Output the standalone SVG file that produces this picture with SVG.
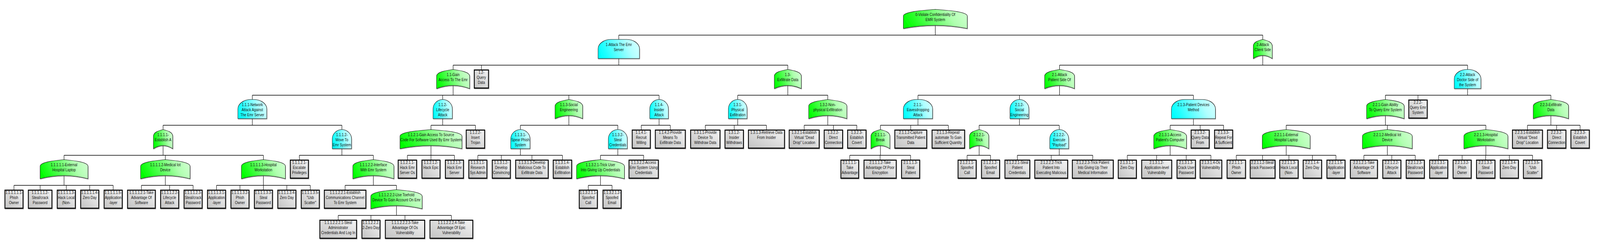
<svg xmlns="http://www.w3.org/2000/svg" width="4984" height="633" viewBox="0 0 4984 633" preserveAspectRatio="none">
<defs>
<linearGradient id="gG" x1="0" y1="0.6" x2="1" y2="0.4"><stop offset="0" stop-color="#00ff00"/><stop offset="0.15" stop-color="#1eff1e"/><stop offset="0.75" stop-color="#b0ffb0"/><stop offset="1" stop-color="#ccffcc"/></linearGradient>
<linearGradient id="gC" x1="0" y1="0.6" x2="1" y2="0.4"><stop offset="0" stop-color="#00ffff"/><stop offset="0.15" stop-color="#1effff"/><stop offset="0.75" stop-color="#b0ffff"/><stop offset="1" stop-color="#d0ffff"/></linearGradient>
<linearGradient id="gL" x1="0" y1="1" x2="1" y2="0"><stop offset="0" stop-color="#c2c2c2"/><stop offset="1" stop-color="#f4f4f4"/></linearGradient>
<filter id="sh" x="-10%" y="-10%" width="125%" height="130%"><feDropShadow dx="1" dy="1.5" stdDeviation="0.6" flood-color="#555" flood-opacity="0.6"/></filter>
</defs>
<style>
svg{width:100vw;height:100vh}
.c{fill:none;stroke:#000;stroke-width:1.3}
.lf{fill:url(#gL);stroke:#000;stroke-width:2.6;filter:url(#sh)}
.or{fill:url(#gG);stroke:#1a1a1a;stroke-width:1.2;filter:url(#sh)}
.and{fill:url(#gC);stroke:#1a1a1a;stroke-width:1.2;filter:url(#sh)}
text{font-family:"Liberation Sans",Arial,sans-serif;font-size:10.5px;fill:#111;text-anchor:middle}
</style>
<rect width="4984" height="633" fill="#fff"/>
<g id="connectors" class="c">
<path d="M2913.5,65V90M1927.5,90H3933.5M1927.5,90V101M3933.5,90V101"/>
<path d="M1927.5,150V167M1411.5,167H2454M1411.5,167V178M1499.5,167V178M2454,167V178"/>
<path d="M3933.5,142V167M3300.5,167H4571.5M3300.5,167V178M4571.5,167V178"/>
<path d="M1411.5,219V244M786,244H2053M786,244V255M1379,244V255M1772,244V255M2053,244V255"/>
<path d="M2454,219V244M2298,244H2578.5M2298,244V255M2578.5,244V255"/>
<path d="M3300.5,219V244M2859.5,244H3717.5M2859.5,244V255M3175.5,244V255M3717.5,244V255"/>
<path d="M4571.5,227V244M4315.5,244H4831M4315.5,244V255M4417,244V255M4831,244V255"/>
<path d="M786,304V321M508,321H1065M508,321V332M1065,321V332"/>
<path d="M1379,304V321M1342.5,321H1481M1342.5,321V332M1481,321V332"/>
<path d="M1772,296V321M1621,321H1924.5M1621,321V332M1924.5,321V332"/>
<path d="M2053,304V321M1997.5,321H2088M1997.5,321V332M2088,321V332"/>
<path d="M2298,304V321M2197,321H2387.5M2197,321V332M2287,321V332M2387.5,321V332"/>
<path d="M2578.5,296V321M2505,321H2669M2505,321V332M2596,321V332M2669,321V332"/>
<path d="M2859.5,304V321M2742.5,321H2954M2742.5,321V332M2837,321V332M2954,321V332"/>
<path d="M3175.5,304V321M3050,321H3299.5M3050,321V332M3299.5,321V332"/>
<path d="M3717.5,304V321M3645,321H3811.5M3645,321V332M3738.5,321V332M3811.5,321V332"/>
<path d="M4315.5,296V321M4006.5,321H4628.5M4006.5,321V332M4321.5,321V332M4628.5,321V332"/>
<path d="M4831,296V321M4758,321H4922M4758,321V332M4849,321V332M4922,321V332"/>
<path d="M508,373V398M199.5,398H820.5M199.5,398V409M515,398V409M820.5,398V409"/>
<path d="M1065,381V398M932.5,398H1163M932.5,398V409M1163,398V409"/>
<path d="M1342.5,373V398M1269,398H1415.5M1269,398V409M1342.5,398V409M1415.5,398V409"/>
<path d="M1621,381V398M1488.5,398H1752M1488.5,398V409M1561.5,398V409M1657,398V409M1752,398V409"/>
<path d="M1924.5,381V398M1870.5,398H2005M1870.5,398V409M2005,398V409"/>
<path d="M2742.5,373V398M2647,398H2836.5M2647,398V409M2741.5,398V409M2836.5,398V409"/>
<path d="M3050,373V398M3012.5,398H3085.5M3012.5,398V409M3085.5,398V409"/>
<path d="M3299.5,381V398M3169,398H3404M3169,398V409M3274.5,398V409M3404,398V409"/>
<path d="M3645,373V398M3511.5,398H3772M3511.5,398V409M3603,398V409M3695,398V409M3772,398V409"/>
<path d="M4006.5,373V398M3851,398H4161.5M3851,398V409M3933,398V409M4015,398V409M4088,398V409M4161.5,398V409"/>
<path d="M4321.5,373V398M4248.5,398H4408.5M4248.5,398V409M4335.5,398V409M4408.5,398V409"/>
<path d="M4628.5,373V398M4481.5,398H4774M4481.5,398V409M4554.5,398V409M4628,398V409M4701.5,398V409M4774,398V409"/>
<path d="M199.5,450V475M43.5,475H352.5M43.5,475V486M125,475V486M206.5,475V486M279.5,475V486M352.5,475V486"/>
<path d="M515,450V475M440.5,475H601.5M440.5,475V486M528.5,475V486M601.5,475V486"/>
<path d="M820.5,450V475M674.5,475H966.5M674.5,475V486M747.5,475V486M820.5,475V486M893.5,475V486M966.5,475V486"/>
<path d="M1163,450V475M1075,475H1235M1075,475V486M1235,475V486"/>
<path d="M1870.5,450V475M1832.5,475H1906.5M1832.5,475V486M1906.5,475V486"/>
<path d="M1235,527V552M1053.5,552H1406M1053.5,552V563M1155.5,552V563M1261.5,552V563M1406,552V563"/>
</g>

<g id="n0" transform="translate(2814,24)"><path class="or" d="M0,49Q99.5,33 199,49L199,17C199,7 149.3,3 99.5,0C49.8,3 0,7 0,17Z"/><text><tspan x="99.5" y="17">0-Violate Confidentiality Of</tspan><tspan x="99.5" y="30">EMR System</tspan></text></g>

<g id="n1" transform="translate(1863,101)"><path class="and" d="M0,49V24C0,11 18,0 40,0H89C111,0 129,11 129,24V49Z"/><text><tspan x="64.5" y="17">1-Attack The Emr</tspan><tspan x="64.5" y="30">Server</tspan></text></g>
<g id="n2" transform="translate(3904,101)"><path class="or" d="M0,49Q29.5,33 59,49L59,17C59,7 44.3,3 29.5,0C14.8,3 0,7 0,17Z"/><text><tspan x="29.5" y="17">2-Attack</tspan><tspan x="29.5" y="30">Client Side</tspan></text></g>

<g id="n1-1" transform="translate(1360,178)"><path class="or" d="M0,49Q51.5,33 103,49L103,17C103,7 77.3,3 51.5,0C25.8,3 0,7 0,17Z"/><text><tspan x="51.5" y="17">1.1-Gain</tspan><tspan x="51.5" y="30">Access To The Emr</tspan></text></g>
<g id="n1-2" transform="translate(1476,178)"><rect class="lf" x="1.3" y="1.3" width="44.4" height="46.4"/><text><tspan x="23.5" y="11.5">1.2-</tspan><tspan x="23.5" y="24.5">Query</tspan><tspan x="23.5" y="37.5">Data</tspan></text></g>
<g id="n1-3" transform="translate(2412,178)"><path class="or" d="M0,49Q42,33 84,49L84,17C84,7 63,3 42,0C21,3 0,7 0,17Z"/><text><tspan x="42" y="17">1.3-</tspan><tspan x="42" y="30">Exfiltrate Data</tspan></text></g>
<g id="n2-1" transform="translate(3254,178)"><path class="or" d="M0,49Q46.5,33 93,49L93,17C93,7 69.8,3 46.5,0C23.3,3 0,7 0,17Z"/><text><tspan x="46.5" y="17">2.1-Attack</tspan><tspan x="46.5" y="30">Patient Side Of</tspan></text></g>
<g id="n2-2" transform="translate(4530,178)"><path class="and" d="M0,49V24C0,11 18,0 40,0H43C65,0 83,11 83,24V49Z"/><text><tspan x="41.5" y="17">2.2-Attack</tspan><tspan x="41.5" y="30">Doctor Side of</tspan><tspan x="41.5" y="43">the System</tspan></text></g>

<g id="n1-1-1" transform="translate(741,255)"><path class="and" d="M0,49V24C0,11 18,0 40,0H50C72,0 90,11 90,24V49Z"/><text><tspan x="45" y="17">1.1.1-Network</tspan><tspan x="45" y="30">Attack Against</tspan><tspan x="45" y="43">The Emr Server</tspan></text></g>
<g id="n1-1-2" transform="translate(1349,255)"><path class="and" d="M0,49V24C0,11 13.5,0 30,0C46.5,0 60,11 60,24V49Z"/><text><tspan x="30" y="17">1.1.2-</tspan><tspan x="30" y="30">Lifecycle</tspan><tspan x="30" y="43">Attack</tspan></text></g>
<g id="n1-1-3" transform="translate(1729,255)"><path class="or" d="M0,49Q43,33 86,49L86,17C86,7 64.5,3 43,0C21.5,3 0,7 0,17Z"/><text><tspan x="43" y="17">1.1.3-Social</tspan><tspan x="43" y="30">Engineering</tspan></text></g>
<g id="n1-1-4" transform="translate(2024,255)"><path class="and" d="M0,49V24C0,11 13,0 29,0C45,0 58,11 58,24V49Z"/><text><tspan x="29" y="17">1.1.4-</tspan><tspan x="29" y="30">Insider</tspan><tspan x="29" y="43">Attack</tspan></text></g>
<g id="n1-3-1" transform="translate(2269,255)"><path class="and" d="M0,49V24C0,11 13,0 29,0C45,0 58,11 58,24V49Z"/><text><tspan x="29" y="17">1.3.1-</tspan><tspan x="29" y="30">Physical</tspan><tspan x="29" y="43">Exfiltration</tspan></text></g>
<g id="n1-3-2" transform="translate(2519,255)"><path class="or" d="M0,49Q59.5,33 119,49L119,17C119,7 89.3,3 59.5,0C29.8,3 0,7 0,17Z"/><text><tspan x="59.5" y="17">1.3.2-Non-</tspan><tspan x="59.5" y="30">physical Exfiltration</tspan></text></g>
<g id="n2-1-1" transform="translate(2814,255)"><path class="and" d="M0,49V24C0,11 18,0 40,0H51C73,0 91,11 91,24V49Z"/><text><tspan x="45.5" y="17">2.1.1-</tspan><tspan x="45.5" y="30">Eavesdropping</tspan><tspan x="45.5" y="43">Attack</tspan></text></g>
<g id="n2-1-2" transform="translate(3146,255)"><path class="and" d="M0,49V24C0,11 13.3,0 29.5,0C45.7,0 59,11 59,24V49Z"/><text><tspan x="29.5" y="17">2.1.2-</tspan><tspan x="29.5" y="30">Social</tspan><tspan x="29.5" y="43">Engineering</tspan></text></g>
<g id="n2-1-3" transform="translate(3649,255)"><path class="and" d="M0,49V24C0,11 18,0 40,0H97C119,0 137,11 137,24V49Z"/><text><tspan x="68.5" y="17">2.1.3-Patient Devices</tspan><tspan x="68.5" y="30">Method</tspan></text></g>
<g id="n2-2-1" transform="translate(4257,255)"><path class="or" d="M0,49Q58.5,33 117,49L117,17C117,7 87.8,3 58.5,0C29.3,3 0,7 0,17Z"/><text><tspan x="58.5" y="17">2.2.1-Gain Ability</tspan><tspan x="58.5" y="30">To Query Emr System</tspan></text></g>
<g id="n2-2-2" transform="translate(4387,255)"><rect class="lf" x="1.3" y="1.3" width="57.4" height="46.4"/><text><tspan x="30" y="11.5">2.2.2-</tspan><tspan x="30" y="24.5">Query Emr</tspan><tspan x="30" y="37.5">System</tspan></text></g>
<g id="n2-2-3" transform="translate(4776,255)"><path class="or" d="M0,49Q55,33 110,49L110,17C110,7 82.5,3 55,0C27.5,3 0,7 0,17Z"/><text><tspan x="55" y="17">2.2.3-Exfiltrate</tspan><tspan x="55" y="30">Data</tspan></text></g>

<g id="n1-1-1-1" transform="translate(478,332)"><path class="or" d="M0,49Q30,33 60,49L60,17C60,7 45,3 30,0C15,3 0,7 0,17Z"/><text><tspan x="30" y="17">1.1.1.1-</tspan><tspan x="30" y="30">Establish A</tspan></text></g>
<g id="n1-1-1-2" transform="translate(1035,332)"><path class="and" d="M0,49V24C0,11 13.5,0 30,0C46.5,0 60,11 60,24V49Z"/><text><tspan x="30" y="17">1.1.1.2-</tspan><tspan x="30" y="30">Move To</tspan><tspan x="30" y="43">Emr System</tspan></text></g>
<g id="n1-1-2-1" transform="translate(1246,332)"><path class="or" d="M0,49Q96.5,33 193,49L193,17C193,7 144.8,3 96.5,0C48.3,3 0,7 0,17Z"/><text><tspan x="96.5" y="17">1.1.2.1-Gain Access To Source</tspan><tspan x="96.5" y="30">Code For Software Used By Emr System</tspan></text></g>
<g id="n1-1-2-2" transform="translate(1451,332)"><rect class="lf" x="1.3" y="1.3" width="57.4" height="46.4"/><text><tspan x="30" y="11.5">1.1.2.2-</tspan><tspan x="30" y="24.5">Insert</tspan><tspan x="30" y="37.5">Trojan</tspan></text></g>
<g id="n1-1-3-1" transform="translate(1591,332)"><path class="and" d="M0,49V24C0,11 13.5,0 30,0C46.5,0 60,11 60,24V49Z"/><text><tspan x="30" y="17">1.1.3.1-</tspan><tspan x="30" y="30">Spear Phish</tspan><tspan x="30" y="43">System</tspan></text></g>
<g id="n1-1-3-2" transform="translate(1895,332)"><path class="and" d="M0,49V24C0,11 13.3,0 29.5,0C45.7,0 59,11 59,24V49Z"/><text><tspan x="29.5" y="17">1.1.3.2-</tspan><tspan x="29.5" y="30">Steal</tspan><tspan x="29.5" y="43">Credentials</tspan></text></g>
<g id="n1-1-4-1" transform="translate(1968,332)"><rect class="lf" x="1.3" y="1.3" width="56.4" height="46.4"/><text><tspan x="29.5" y="11.5">1.1.4.1-</tspan><tspan x="29.5" y="24.5">Recruit</tspan><tspan x="29.5" y="37.5">Willing</tspan></text></g>
<g id="n1-1-4-2" transform="translate(2040,332)"><rect class="lf" x="1.3" y="1.3" width="93.4" height="46.4"/><text><tspan x="48" y="11.5">1.1.4.2-Provide</tspan><tspan x="48" y="24.5">Means To</tspan><tspan x="48" y="37.5">Exfiltrate Data</tspan></text></g>
<g id="n1-3-1-1" transform="translate(2150,332)"><rect class="lf" x="1.3" y="1.3" width="91.4" height="46.4"/><text><tspan x="47" y="11.5">1.3.1.1-Provide</tspan><tspan x="47" y="24.5">Device To</tspan><tspan x="47" y="37.5">Withdraw Data</tspan></text></g>
<g id="n1-3-1-2" transform="translate(2257,332)"><rect class="lf" x="1.3" y="1.3" width="57.4" height="46.4"/><text><tspan x="30" y="11.5">1.3.1.2-</tspan><tspan x="30" y="24.5">Insider</tspan><tspan x="30" y="37.5">Withdraws</tspan></text></g>
<g id="n1-3-1-3" transform="translate(2330,332)"><rect class="lf" x="1.3" y="1.3" width="112.4" height="46.4"/><text><tspan x="57.5" y="11.5">1.3.1.3-Retrieve Data</tspan><tspan x="57.5" y="24.5">From Insider</tspan></text></g>
<g id="n1-3-2-1" transform="translate(2457,332)"><rect class="lf" x="1.3" y="1.3" width="93.4" height="46.4"/><text><tspan x="48" y="11.5">1.3.2.1-Establish</tspan><tspan x="48" y="24.5">Virtual "Dead</tspan><tspan x="48" y="37.5">Drop" Location</tspan></text></g>
<g id="n1-3-2-2" transform="translate(2566,332)"><rect class="lf" x="1.3" y="1.3" width="57.4" height="46.4"/><text><tspan x="30" y="11.5">1.3.2.2-</tspan><tspan x="30" y="24.5">Direct</tspan><tspan x="30" y="37.5">Connection</tspan></text></g>
<g id="n1-3-2-3" transform="translate(2639,332)"><rect class="lf" x="1.3" y="1.3" width="57.4" height="46.4"/><text><tspan x="30" y="11.5">1.3.2.3-</tspan><tspan x="30" y="24.5">Establish</tspan><tspan x="30" y="37.5">Covert</tspan></text></g>
<g id="n2-1-1-1" transform="translate(2713,332)"><path class="or" d="M0,49Q29.5,33 59,49L59,17C59,7 44.3,3 29.5,0C14.8,3 0,7 0,17Z"/><text><tspan x="29.5" y="17">2.1.1.1-</tspan><tspan x="29.5" y="30">Break</tspan></text></g>
<g id="n2-1-1-2" transform="translate(2786,332)"><rect class="lf" x="1.3" y="1.3" width="99.4" height="46.4"/><text><tspan x="51" y="11.5">2.1.1.2-Capture</tspan><tspan x="51" y="24.5">Transmitted Patient</tspan><tspan x="51" y="37.5">Data</tspan></text></g>
<g id="n2-1-1-3" transform="translate(2902,332)"><rect class="lf" x="1.3" y="1.3" width="101.4" height="46.4"/><text><tspan x="52" y="11.5">2.1.1.3-Repeat/</tspan><tspan x="52" y="24.5">automate To Gain</tspan><tspan x="52" y="37.5">Sufficient Quantity</tspan></text></g>
<g id="n2-1-2-1" transform="translate(3020,332)"><path class="or" d="M0,49Q30,33 60,49L60,17C60,7 45,3 30,0C15,3 0,7 0,17Z"/><text><tspan x="30" y="17">2.1.2.1-</tspan><tspan x="30" y="30">Trick</tspan></text></g>
<g id="n2-1-2-2" transform="translate(3270,332)"><path class="and" d="M0,49V24C0,11 13.3,0 29.5,0C45.7,0 59,11 59,24V49Z"/><text><tspan x="29.5" y="17">2.1.2.2-</tspan><tspan x="29.5" y="30">Execute</tspan><tspan x="29.5" y="43">"Payload"</tspan></text></g>
<g id="n2-1-3-1" transform="translate(3594,332)"><path class="or" d="M0,49Q51,33 102,49L102,17C102,7 76.5,3 51,0C25.5,3 0,7 0,17Z"/><text><tspan x="51" y="17">2.1.3.1-Access</tspan><tspan x="51" y="30">Patient's Computer</tspan></text></g>
<g id="n2-1-3-2" transform="translate(3709,332)"><rect class="lf" x="1.3" y="1.3" width="56.4" height="46.4"/><text><tspan x="29.5" y="11.5">2.1.3.2-</tspan><tspan x="29.5" y="24.5">Query Data</tspan><tspan x="29.5" y="37.5">From</tspan></text></g>
<g id="n2-1-3-3" transform="translate(3782,332)"><rect class="lf" x="1.3" y="1.3" width="56.4" height="46.4"/><text><tspan x="29.5" y="11.5">2.1.3.3-</tspan><tspan x="29.5" y="24.5">Repeat For</tspan><tspan x="29.5" y="37.5">A Sufficient</tspan></text></g>
<g id="n2-2-1-1" transform="translate(3932,332)"><path class="or" d="M0,49Q74.5,33 149,49L149,17C149,7 111.8,3 74.5,0C37.3,3 0,7 0,17Z"/><text><tspan x="74.5" y="17">2.2.1.1-External</tspan><tspan x="74.5" y="30">Hospital Laptop</tspan></text></g>
<g id="n2-2-1-2" transform="translate(4244,332)"><path class="or" d="M0,49Q77.5,33 155,49L155,17C155,7 116.3,3 77.5,0C38.8,3 0,7 0,17Z"/><text><tspan x="77.5" y="17">2.2.1.2-Medical Iot</tspan><tspan x="77.5" y="30">Device</tspan></text></g>
<g id="n2-2-1-3" transform="translate(4560,332)"><path class="or" d="M0,49Q68.5,33 137,49L137,17C137,7 102.8,3 68.5,0C34.3,3 0,7 0,17Z"/><text><tspan x="68.5" y="17">2.2.1.3-Hospital</tspan><tspan x="68.5" y="30">Workstation</tspan></text></g>
<g id="n2-2-3-1" transform="translate(4710,332)"><rect class="lf" x="1.3" y="1.3" width="93.4" height="46.4"/><text><tspan x="48" y="11.5">2.2.3.1-Establish</tspan><tspan x="48" y="24.5">Virtual "Dead</tspan><tspan x="48" y="37.5">Drop" Location</tspan></text></g>
<g id="n2-2-3-2" transform="translate(4819,332)"><rect class="lf" x="1.3" y="1.3" width="57.4" height="46.4"/><text><tspan x="30" y="11.5">2.2.3.2-</tspan><tspan x="30" y="24.5">Direct</tspan><tspan x="30" y="37.5">Connection</tspan></text></g>
<g id="n2-2-3-3" transform="translate(4892,332)"><rect class="lf" x="1.3" y="1.3" width="57.4" height="46.4"/><text><tspan x="30" y="11.5">2.2.3.3-</tspan><tspan x="30" y="24.5">Establish</tspan><tspan x="30" y="37.5">Covert</tspan></text></g>

<g id="n1-1-1-1-1" transform="translate(125,409)"><path class="or" d="M0,49Q74.5,33 149,49L149,17C149,7 111.8,3 74.5,0C37.3,3 0,7 0,17Z"/><text><tspan x="74.5" y="17">1.1.1.1.1-External</tspan><tspan x="74.5" y="30">Hospital Laptop</tspan></text></g>
<g id="n1-1-1-1-2" transform="translate(438,409)"><path class="or" d="M0,49Q77,33 154,49L154,17C154,7 115.5,3 77,0C38.5,3 0,7 0,17Z"/><text><tspan x="77" y="17">1.1.1.1.2-Medical Iot</tspan><tspan x="77" y="30">Device</tspan></text></g>
<g id="n1-1-1-1-3" transform="translate(752,409)"><path class="or" d="M0,49Q68.5,33 137,49L137,17C137,7 102.8,3 68.5,0C34.3,3 0,7 0,17Z"/><text><tspan x="68.5" y="17">1.1.1.1.3-Hospital</tspan><tspan x="68.5" y="30">Workstation</tspan></text></g>
<g id="n1-1-1-2-1" transform="translate(903,409)"><rect class="lf" x="1.3" y="1.3" width="56.4" height="46.4"/><text><tspan x="29.5" y="11.5">1.1.1.2.1-</tspan><tspan x="29.5" y="24.5">Escalate</tspan><tspan x="29.5" y="37.5">Privileges</tspan></text></g>
<g id="n1-1-1-2-2" transform="translate(1099,409)"><path class="or" d="M0,49Q64,33 128,49L128,17C128,7 96,3 64,0C32,3 0,7 0,17Z"/><text><tspan x="64" y="17">1.1.1.2.2-Interface</tspan><tspan x="64" y="30">With Emr System</tspan></text></g>
<g id="n1-1-2-1-1" transform="translate(1239,409)"><rect class="lf" x="1.3" y="1.3" width="57.4" height="46.4"/><text><tspan x="30" y="11.5">1.1.2.1.1-</tspan><tspan x="30" y="24.5">Hack Emr</tspan><tspan x="30" y="37.5">Server Os</tspan></text></g>
<g id="n1-1-2-1-2" transform="translate(1313,409)"><rect class="lf" x="1.3" y="1.3" width="56.4" height="46.4"/><text><tspan x="29.5" y="11.5">1.1.2.1.2-</tspan><tspan x="29.5" y="24.5">Hack Epic</tspan></text></g>
<g id="n1-1-2-1-3" transform="translate(1386,409)"><rect class="lf" x="1.3" y="1.3" width="56.4" height="46.4"/><text><tspan x="29.5" y="11.5">1.1.2.1.3-</tspan><tspan x="29.5" y="24.5">Hack Emr</tspan><tspan x="29.5" y="37.5">Server</tspan></text></g>
<g id="n1-1-3-1-1" transform="translate(1459,409)"><rect class="lf" x="1.3" y="1.3" width="56.4" height="46.4"/><text><tspan x="29.5" y="11.5">1.1.3.1.1-</tspan><tspan x="29.5" y="24.5">Research</tspan><tspan x="29.5" y="37.5">Sys Admin</tspan></text></g>
<g id="n1-1-3-1-2" transform="translate(1532,409)"><rect class="lf" x="1.3" y="1.3" width="56.4" height="46.4"/><text><tspan x="29.5" y="11.5">1.1.3.1.2-</tspan><tspan x="29.5" y="24.5">Develop</tspan><tspan x="29.5" y="37.5">Convincing</tspan></text></g>
<g id="n1-1-3-1-3" transform="translate(1605,409)"><rect class="lf" x="1.3" y="1.3" width="101.4" height="46.4"/><text><tspan x="52" y="11.5">1.1.3.1.3-Develop</tspan><tspan x="52" y="24.5">Malicious Code To</tspan><tspan x="52" y="37.5">Exfiltrate Data</tspan></text></g>
<g id="n1-1-3-1-4" transform="translate(1722,409)"><rect class="lf" x="1.3" y="1.3" width="57.4" height="46.4"/><text><tspan x="30" y="11.5">1.1.3.1.4-</tspan><tspan x="30" y="24.5">Establish</tspan><tspan x="30" y="37.5">Exfiltration</tspan></text></g>
<g id="n1-1-3-2-1" transform="translate(1796,409)"><path class="or" d="M0,49Q74.5,33 149,49L149,17C149,7 111.8,3 74.5,0C37.3,3 0,7 0,17Z"/><text><tspan x="74.5" y="17">1.1.3.2.1-Trick User</tspan><tspan x="74.5" y="30">Into Giving Up Credentials</tspan></text></g>
<g id="n1-1-3-2-2" transform="translate(1958,409)"><rect class="lf" x="1.3" y="1.3" width="91.4" height="46.4"/><text><tspan x="47" y="11.5">1.1.3.2.2-Access</tspan><tspan x="47" y="24.5">Emr System Using</tspan><tspan x="47" y="37.5">Credentials</tspan></text></g>
<g id="n2-1-1-1-1" transform="translate(2618,409)"><rect class="lf" x="1.3" y="1.3" width="55.4" height="46.4"/><text><tspan x="29" y="11.5">2.1.1.1.1-</tspan><tspan x="29" y="24.5">Take</tspan><tspan x="29" y="37.5">Advantage</tspan></text></g>
<g id="n2-1-1-1-2" transform="translate(2690,409)"><rect class="lf" x="1.3" y="1.3" width="100.4" height="46.4"/><text><tspan x="51.5" y="11.5">2.1.1.1.2-Take</tspan><tspan x="51.5" y="24.5">Advantage Of Poor</tspan><tspan x="51.5" y="37.5">Encryption</tspan></text></g>
<g id="n2-1-1-1-3" transform="translate(2807,409)"><rect class="lf" x="1.3" y="1.3" width="56.4" height="46.4"/><text><tspan x="29.5" y="11.5">2.1.1.1.3-</tspan><tspan x="29.5" y="24.5">Steal</tspan><tspan x="29.5" y="37.5">Patient</tspan></text></g>
<g id="n2-1-2-1-1" transform="translate(2983,409)"><rect class="lf" x="1.3" y="1.3" width="56.4" height="46.4"/><text><tspan x="29.5" y="11.5">2.1.2.1.1-</tspan><tspan x="29.5" y="24.5">Spoofed</tspan><tspan x="29.5" y="37.5">Call</tspan></text></g>
<g id="n2-1-2-1-2" transform="translate(3056,409)"><rect class="lf" x="1.3" y="1.3" width="56.4" height="46.4"/><text><tspan x="29.5" y="11.5">2.1.2.1.2-</tspan><tspan x="29.5" y="24.5">Spoofed</tspan><tspan x="29.5" y="37.5">Email</tspan></text></g>
<g id="n2-1-2-2-1" transform="translate(3129,409)"><rect class="lf" x="1.3" y="1.3" width="77.4" height="46.4"/><text><tspan x="40" y="11.5">2.1.2.2.1-Steal</tspan><tspan x="40" y="24.5">Patient</tspan><tspan x="40" y="37.5">Credentials</tspan></text></g>
<g id="n2-1-2-2-2" transform="translate(3222,409)"><rect class="lf" x="1.3" y="1.3" width="102.4" height="46.4"/><text><tspan x="52.5" y="11.5">2.1.2.2.2-Trick</tspan><tspan x="52.5" y="24.5">Patient Into</tspan><tspan x="52.5" y="37.5">Executing Malicious</tspan></text></g>
<g id="n2-1-2-2-3" transform="translate(3339,409)"><rect class="lf" x="1.3" y="1.3" width="127.4" height="46.4"/><text><tspan x="65" y="11.5">2.1.2.2.3-Trick Patient</tspan><tspan x="65" y="24.5">Into Giving Up Their</tspan><tspan x="65" y="37.5">Medical Information</tspan></text></g>
<g id="n2-1-3-1-1" transform="translate(3482,409)"><rect class="lf" x="1.3" y="1.3" width="56.4" height="46.4"/><text><tspan x="29.5" y="11.5">2.1.3.1.1-</tspan><tspan x="29.5" y="24.5">Zero Day</tspan></text></g>
<g id="n2-1-3-1-2" transform="translate(3555,409)"><rect class="lf" x="1.3" y="1.3" width="93.4" height="46.4"/><text><tspan x="48" y="11.5">2.1.3.1.2-</tspan><tspan x="48" y="24.5">Application-level</tspan><tspan x="48" y="37.5">Vulnerability</tspan></text></g>
<g id="n2-1-3-1-3" transform="translate(3665,409)"><rect class="lf" x="1.3" y="1.3" width="57.4" height="46.4"/><text><tspan x="30" y="11.5">2.1.3.1.3-</tspan><tspan x="30" y="24.5">Crack User</tspan><tspan x="30" y="37.5">Password</tspan></text></g>
<g id="n2-1-3-1-4" transform="translate(3737,409)"><rect class="lf" x="1.3" y="1.3" width="67.4" height="46.4"/><text><tspan x="35" y="11.5">2.1.3.1.4-Os</tspan><tspan x="35" y="24.5">Vulnerability</tspan></text></g>
<g id="n2-2-1-1-1" transform="translate(3821,409)"><rect class="lf" x="1.3" y="1.3" width="57.4" height="46.4"/><text><tspan x="30" y="11.5">2.2.1.1.1-</tspan><tspan x="30" y="24.5">Phish</tspan><tspan x="30" y="37.5">Owner</tspan></text></g>
<g id="n2-2-1-1-2" transform="translate(3893,409)"><rect class="lf" x="1.3" y="1.3" width="77.4" height="46.4"/><text><tspan x="40" y="11.5">2.2.1.1.2-Steal/</tspan><tspan x="40" y="24.5">crack Password</tspan></text></g>
<g id="n2-2-1-1-3" transform="translate(3985,409)"><rect class="lf" x="1.3" y="1.3" width="57.4" height="46.4"/><text><tspan x="30" y="11.5">2.2.1.1.3-</tspan><tspan x="30" y="24.5">Hack Local</tspan><tspan x="30" y="37.5">(Non-</tspan></text></g>
<g id="n2-2-1-1-4" transform="translate(4058,409)"><rect class="lf" x="1.3" y="1.3" width="57.4" height="46.4"/><text><tspan x="30" y="11.5">2.2.1.1.4-</tspan><tspan x="30" y="24.5">Zero Day</tspan></text></g>
<g id="n2-2-1-1-5" transform="translate(4132,409)"><rect class="lf" x="1.3" y="1.3" width="56.4" height="46.4"/><text><tspan x="29.5" y="11.5">2.2.1.1.5-</tspan><tspan x="29.5" y="24.5">Application</tspan><tspan x="29.5" y="37.5">-layer</tspan></text></g>
<g id="n2-2-1-2-1" transform="translate(4205,409)"><rect class="lf" x="1.3" y="1.3" width="84.4" height="46.4"/><text><tspan x="43.5" y="11.5">2.2.1.2.1-Take</tspan><tspan x="43.5" y="24.5">Advantage Of</tspan><tspan x="43.5" y="37.5">Software</tspan></text></g>
<g id="n2-2-1-2-2" transform="translate(4306,409)"><rect class="lf" x="1.3" y="1.3" width="56.4" height="46.4"/><text><tspan x="29.5" y="11.5">2.2.1.2.2-</tspan><tspan x="29.5" y="24.5">Lifecycle</tspan><tspan x="29.5" y="37.5">Attack</tspan></text></g>
<g id="n2-2-1-2-3" transform="translate(4379,409)"><rect class="lf" x="1.3" y="1.3" width="56.4" height="46.4"/><text><tspan x="29.5" y="11.5">2.2.1.2.3-</tspan><tspan x="29.5" y="24.5">Steal/crack</tspan><tspan x="29.5" y="37.5">Password</tspan></text></g>
<g id="n2-2-1-3-1" transform="translate(4452,409)"><rect class="lf" x="1.3" y="1.3" width="56.4" height="46.4"/><text><tspan x="29.5" y="11.5">2.2.1.3.1-</tspan><tspan x="29.5" y="24.5">Application</tspan><tspan x="29.5" y="37.5">-layer</tspan></text></g>
<g id="n2-2-1-3-2" transform="translate(4525,409)"><rect class="lf" x="1.3" y="1.3" width="56.4" height="46.4"/><text><tspan x="29.5" y="11.5">2.2.1.3.2-</tspan><tspan x="29.5" y="24.5">Phish</tspan><tspan x="29.5" y="37.5">Owner</tspan></text></g>
<g id="n2-2-1-3-3" transform="translate(4598,409)"><rect class="lf" x="1.3" y="1.3" width="57.4" height="46.4"/><text><tspan x="30" y="11.5">2.2.1.3.3-</tspan><tspan x="30" y="24.5">Steal</tspan><tspan x="30" y="37.5">Password</tspan></text></g>
<g id="n2-2-1-3-4" transform="translate(4672,409)"><rect class="lf" x="1.3" y="1.3" width="56.4" height="46.4"/><text><tspan x="29.5" y="11.5">2.2.1.3.4-</tspan><tspan x="29.5" y="24.5">Zero Day</tspan></text></g>
<g id="n2-2-1-3-5" transform="translate(4744,409)"><rect class="lf" x="1.3" y="1.3" width="57.4" height="46.4"/><text><tspan x="30" y="11.5">2.2.1.3.5-</tspan><tspan x="30" y="24.5">"Usb</tspan><tspan x="30" y="37.5">Scatter"</tspan></text></g>

<g id="n1-1-1-1-1-1" transform="translate(14,486)"><rect class="lf" x="1.3" y="1.3" width="56.4" height="46.4"/><text><tspan x="29.5" y="11.5">1.1.1.1.1.1-</tspan><tspan x="29.5" y="24.5">Phish</tspan><tspan x="29.5" y="37.5">Owner</tspan></text></g>
<g id="n1-1-1-1-1-2" transform="translate(87,486)"><rect class="lf" x="1.3" y="1.3" width="73.4" height="46.4"/><text><tspan x="38" y="11.5">1.1.1.1.1.2-</tspan><tspan x="38" y="24.5">Steal/crack</tspan><tspan x="38" y="37.5">Password</tspan></text></g>
<g id="n1-1-1-1-1-3" transform="translate(177,486)"><rect class="lf" x="1.3" y="1.3" width="56.4" height="46.4"/><text><tspan x="29.5" y="11.5">1.1.1.1.1.3-</tspan><tspan x="29.5" y="24.5">Hack Local</tspan><tspan x="29.5" y="37.5">(Non-</tspan></text></g>
<g id="n1-1-1-1-1-4" transform="translate(250,486)"><rect class="lf" x="1.3" y="1.3" width="56.4" height="46.4"/><text><tspan x="29.5" y="11.5">1.1.1.1.1.4-</tspan><tspan x="29.5" y="24.5">Zero Day</tspan></text></g>
<g id="n1-1-1-1-1-5" transform="translate(323,486)"><rect class="lf" x="1.3" y="1.3" width="56.4" height="46.4"/><text><tspan x="29.5" y="11.5">1.1.1.1.1.5-</tspan><tspan x="29.5" y="24.5">Application</tspan><tspan x="29.5" y="37.5">-layer</tspan></text></g>
<g id="n1-1-1-1-2-1" transform="translate(396,486)"><rect class="lf" x="1.3" y="1.3" width="86.4" height="46.4"/><text><tspan x="44.5" y="11.5">1.1.1.1.2.1-Take</tspan><tspan x="44.5" y="24.5">Advantage Of</tspan><tspan x="44.5" y="37.5">Software</tspan></text></g>
<g id="n1-1-1-1-2-2" transform="translate(499,486)"><rect class="lf" x="1.3" y="1.3" width="56.4" height="46.4"/><text><tspan x="29.5" y="11.5">1.1.1.1.2.2-</tspan><tspan x="29.5" y="24.5">Lifecycle</tspan><tspan x="29.5" y="37.5">Attack</tspan></text></g>
<g id="n1-1-1-1-2-3" transform="translate(572,486)"><rect class="lf" x="1.3" y="1.3" width="56.4" height="46.4"/><text><tspan x="29.5" y="11.5">1.1.1.1.2.3-</tspan><tspan x="29.5" y="24.5">Steal/crack</tspan><tspan x="29.5" y="37.5">Password</tspan></text></g>
<g id="n1-1-1-1-3-1" transform="translate(645,486)"><rect class="lf" x="1.3" y="1.3" width="56.4" height="46.4"/><text><tspan x="29.5" y="11.5">1.1.1.1.3.1-</tspan><tspan x="29.5" y="24.5">Application</tspan><tspan x="29.5" y="37.5">-layer</tspan></text></g>
<g id="n1-1-1-1-3-2" transform="translate(718,486)"><rect class="lf" x="1.3" y="1.3" width="56.4" height="46.4"/><text><tspan x="29.5" y="11.5">1.1.1.1.3.2-</tspan><tspan x="29.5" y="24.5">Phish</tspan><tspan x="29.5" y="37.5">Owner</tspan></text></g>
<g id="n1-1-1-1-3-3" transform="translate(791,486)"><rect class="lf" x="1.3" y="1.3" width="56.4" height="46.4"/><text><tspan x="29.5" y="11.5">1.1.1.1.3.3-</tspan><tspan x="29.5" y="24.5">Steal</tspan><tspan x="29.5" y="37.5">Password</tspan></text></g>
<g id="n1-1-1-1-3-4" transform="translate(864,486)"><rect class="lf" x="1.3" y="1.3" width="56.4" height="46.4"/><text><tspan x="29.5" y="11.5">1.1.1.1.3.4-</tspan><tspan x="29.5" y="24.5">Zero Day</tspan></text></g>
<g id="n1-1-1-1-3-5" transform="translate(937,486)"><rect class="lf" x="1.3" y="1.3" width="56.4" height="46.4"/><text><tspan x="29.5" y="11.5">1.1.1.1.3.5-</tspan><tspan x="29.5" y="24.5">"Usb</tspan><tspan x="29.5" y="37.5">Scatter"</tspan></text></g>
<g id="n1-1-1-2-2-1" transform="translate(1009,486)"><rect class="lf" x="1.3" y="1.3" width="129.4" height="46.4"/><text><tspan x="66" y="11.5">1.1.1.2.2.1-Establish</tspan><tspan x="66" y="24.5">Communications Channel</tspan><tspan x="66" y="37.5">To Emr System</tspan></text></g>
<g id="n1-1-1-2-2-2" transform="translate(1155,486)"><path class="or" d="M0,49Q80,33 160,49L160,17C160,7 120,3 80,0C40,3 0,7 0,17Z"/><text><tspan x="80" y="17">1.1.1.2.2.2-Use Toehold</tspan><tspan x="80" y="30">Device To Gain Account On Emr</tspan></text></g>
<g id="n1-1-3-2-1-1" transform="translate(1803,486)"><rect class="lf" x="1.3" y="1.3" width="56.4" height="46.4"/><text><tspan x="29.5" y="11.5">1.1.3.2.1.1-</tspan><tspan x="29.5" y="24.5">Spoofed</tspan><tspan x="29.5" y="37.5">Call</tspan></text></g>
<g id="n1-1-3-2-1-2" transform="translate(1877,486)"><rect class="lf" x="1.3" y="1.3" width="56.4" height="46.4"/><text><tspan x="29.5" y="11.5">1.1.3.2.1.2-</tspan><tspan x="29.5" y="24.5">Spoofed</tspan><tspan x="29.5" y="37.5">Email</tspan></text></g>

<g id="n1-1-1-2-2-2-1" transform="translate(995,563)"><rect class="lf" x="1.3" y="1.3" width="114.4" height="46.4"/><text><tspan x="58.5" y="11.5">1.1.1.2.2.2.1-Steal</tspan><tspan x="58.5" y="24.5">Administrator</tspan><tspan x="58.5" y="37.5">Credentials And Log In</tspan></text></g>
<g id="n1-1-1-2-2-2-2" transform="translate(1126,563)"><rect class="lf" x="1.3" y="1.3" width="56.4" height="46.4"/><text><tspan x="29.5" y="11.5">1.1.1.2.2.2.</tspan><tspan x="29.5" y="24.5">2-Zero Day</tspan></text></g>
<g id="n1-1-1-2-2-2-3" transform="translate(1199,563)"><rect class="lf" x="1.3" y="1.3" width="122.4" height="46.4"/><text><tspan x="62.5" y="11.5">1.1.1.2.2.2.3-Take</tspan><tspan x="62.5" y="24.5">Advantage Of Os</tspan><tspan x="62.5" y="37.5">Vulnerability</tspan></text></g>
<g id="n1-1-1-2-2-2-4" transform="translate(1338,563)"><rect class="lf" x="1.3" y="1.3" width="133.4" height="46.4"/><text><tspan x="68" y="11.5">1.1.1.2.2.2.4-Take</tspan><tspan x="68" y="24.5">Advantage Of Epic</tspan><tspan x="68" y="37.5">Vulnerability</tspan></text></g>
</svg>
